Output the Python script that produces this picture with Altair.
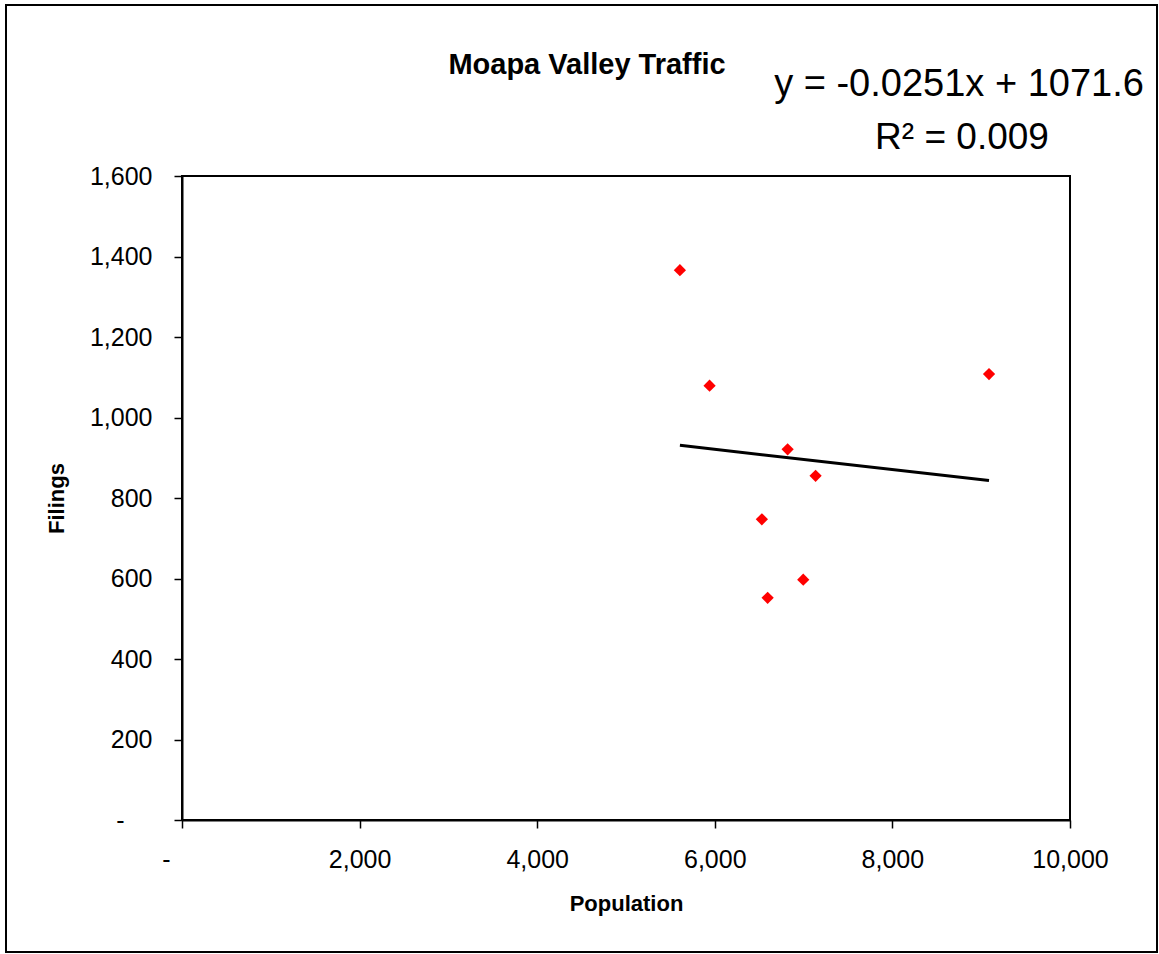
import altair as alt
import pandas as pd

# Observed population and filing counts
population = [5607, 5941, 9088, 6820, 7135, 6530, 6996, 6595]
filings = [1366, 1079, 1108, 921, 855, 747, 597, 552]

# Linear trend (least squares) and its fit
slope = -0.0251
intercept = 1071.6
r_squared = 0.009

x_ticks = [0, 2000, 4000, 6000, 8000, 10000]
y_ticks = [0, 200, 400, 600, 800, 1000, 1200, 1400, 1600]

title_text = "Moapa Valley Traffic"
equation_text = f"y = {slope}x + {intercept}"
r2_text = f"R\u00b2 = {r_squared}"

W, H = 888, 644
FONT = "Liberation Sans, Arial, sans-serif"

points = pd.DataFrame({"Population": population, "Filings": filings})
trend_x = [min(population), max(population)]
trend = pd.DataFrame({
    "Population": trend_x,
    "Filings": [slope * v + intercept for v in trend_x],
})
one_row = pd.DataFrame({"k": [0]})

x_scale = alt.Scale(domain=[0, 10000], nice=False, zero=True)
y_scale = alt.Scale(domain=[0, 1600], nice=False, zero=True)

# Accounting-style labels: zero is shown as a dash set off from the tick
label_expr = "datum.value === 0 ? '-' : format(datum.value, ',')"
is_zero = "datum.value === 0"

x_axis = alt.Axis(
    values=x_ticks,
    labelExpr=label_expr,
    labelOffset=alt.condition(is_zero, alt.value(-16), alt.value(0)),
    grid=False,
    tickSize=8, tickWidth=1.5, tickColor="black",
    domainColor="black", domainWidth=2,
    labelFont=FONT, labelFontSize=25, labelColor="black",
    labelBaseline="alphabetic", labelPadding=39,
    labelFlush=False, labelOverlap=False,
    title="Population", titleFont=FONT, titleFontSize=22,
    titleFontWeight="bold", titleColor="black",
    titleBaseline="alphabetic", titleY=90,
)
y_axis = alt.Axis(
    values=y_ticks,
    labelExpr=label_expr,
    labelPadding=alt.condition(is_zero, alt.value(50), alt.value(22)),
    grid=False,
    tickSize=8, tickWidth=1.5, tickColor="black",
    domainColor="black", domainWidth=2,
    labelFont=FONT, labelFontSize=25, labelColor="black",
    labelFlush=False, labelOverlap=False,
    title="Filings", titleFont=FONT, titleFontSize=22,
    titleFontWeight="bold", titleColor="black",
    titleBaseline="alphabetic", titleX=-119, titleY=H / 2,
)

# Outer frame around the whole chart
frame = alt.Chart(one_row).mark_rect(
    filled=False, stroke="black", strokeWidth=2
).encode(
    x=alt.value(-176), x2=alt.value(975),
    y=alt.value(-171), y2=alt.value(776),
)

trend_line = alt.Chart(trend).mark_line(color="black", strokeWidth=3).encode(
    x=alt.X("Population:Q", scale=x_scale, axis=x_axis),
    y=alt.Y("Filings:Q", scale=y_scale, axis=y_axis),
)

dots = alt.Chart(points).mark_point(
    shape="diamond", filled=True, color="#ff0000", size=150, opacity=1
).encode(
    x=alt.X("Population:Q", scale=x_scale),
    y=alt.Y("Filings:Q", scale=y_scale),
)

title_mark = alt.Chart(one_row).mark_text(
    font=FONT, fontSize=29, fontWeight="bold", color="black",
    align="center", baseline="alphabetic",
).encode(x=alt.value(405), y=alt.value(-102), text=alt.value(title_text))

eq_mark = alt.Chart(one_row).mark_text(
    font=FONT, fontSize=38, color="black", align="center", baseline="alphabetic",
).encode(x=alt.value(777), y=alt.value(-80), text=alt.value(equation_text))

r2_mark = alt.Chart(one_row).mark_text(
    font=FONT, fontSize=37, color="black", align="center", baseline="alphabetic",
).encode(x=alt.value(780), y=alt.value(-27), text=alt.value(r2_text))

chart = alt.layer(
    frame, trend_line, dots, title_mark, eq_mark, r2_mark
).properties(
    width=W, height=H,
    padding={"left": 5, "top": 4, "right": 0, "bottom": 0},
    background="white",
).configure_view(
    stroke="black", strokeWidth=2
)

chart.save("out.html", embed_options={"renderer": "svg", "actions": False})
